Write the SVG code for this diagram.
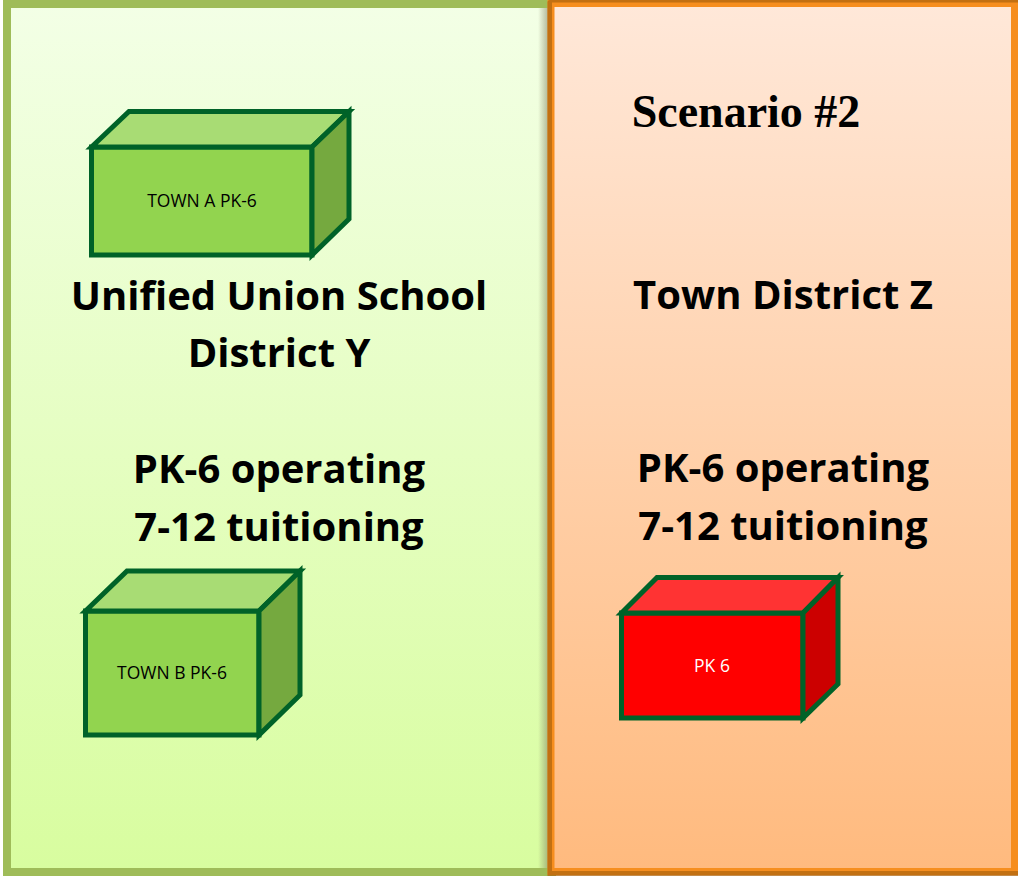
<svg xmlns="http://www.w3.org/2000/svg" width="1018" height="876" viewBox="0 0 1018 876">
<defs>
<linearGradient id="gg" x1="0" y1="0" x2="0" y2="1"><stop offset="0" stop-color="#f3ffe6"/><stop offset="1" stop-color="#d8fd9f"/></linearGradient>
<linearGradient id="og" x1="0" y1="0" x2="0" y2="1"><stop offset="0" stop-color="#ffe8d9"/><stop offset="1" stop-color="#ffba7e"/></linearGradient>
<linearGradient id="sh" x1="0" y1="0" x2="1" y2="0"><stop offset="0" stop-color="#7f7f5f" stop-opacity="0"/><stop offset="1" stop-color="#7f7f5f" stop-opacity=".55"/></linearGradient>
</defs>
<style>
.b{stroke:#006228;stroke-width:5;stroke-linejoin:miter}
.h{font-family:"Open Sans","Noto Sans",sans-serif;font-weight:700;font-size:40px;fill:#000;text-anchor:middle}
.s{font-family:"Open Sans","Noto Sans",sans-serif;font-size:17.5px;text-anchor:middle}
.gf{fill:#92d44f}.gt{fill:#a8dc74}.gs{fill:#75a93f}
</style>
<rect width="1018" height="876" fill="#fff"/>
<g id="panel-left">
<rect x="3" y="0" width="4" height="876" fill="#b5b5a0"/>
<rect x="7" y="4" width="545" height="868" fill="url(#gg)" stroke="#9fbc59" stroke-width="8"/>
</g>
<rect x="538" y="8" width="10" height="860" fill="url(#sh)"/>
<g id="panel-right">
<rect x="551" y="3.500" width="463.500" height="868" fill="url(#og)" stroke="#f68e1e" stroke-width="7"/>
<path d="M547.500 876V2.500Q547.500 0 550 0H1018V2.500H552V871H1018V876Z" fill="#b0650f" fill-opacity=".75"/>
</g>
<g id="box-town-a">
<path class="b gf" d="M91.500 147H312V255H91.500Z"/>
<path class="b gt" d="M91.500 147L129 111.500H349L312 147Z"/>
<path class="b gs" d="M312 147L349 111.500V219L312 255Z"/>
<text class="s" x="202" y="207">TOWN A PK-6</text>
</g>
<g id="box-town-b">
<path class="b gf" d="M85.500 611H259V735H85.500Z"/>
<path class="b gt" d="M85.500 611L127 571H300L259 611Z"/>
<path class="b gs" d="M259 611L300 571V695L259 735Z"/>
<text class="s" x="172" y="679">TOWN B PK-6</text>
</g>
<g id="box-pk6">
<path class="b" fill="#f00" d="M621.500 613H803V718H621.500Z"/>
<path class="b" fill="#ff3333" d="M621.500 613L657 577.500H838L803 613Z"/>
<path class="b" fill="#c00" d="M803 613L838 577.500V684L803 718Z"/>
<text class="s" x="712" y="672" fill="#fff">PK 6</text>
</g>
<g id="labels">
<text x="746" y="127" font-family="'Liberation Serif',serif" font-weight="700" font-size="46" text-anchor="middle">Scenario #2</text>
<text class="h" x="279" y="310">Unified Union School</text>
<text class="h" x="279" y="367">District Y</text>
<text class="h" x="279" y="483">PK-6 operating</text>
<text class="h" x="279" y="541">7-12 tuitioning</text>
<text class="h" x="783" y="309">Town District Z</text>
<text class="h" x="783" y="482">PK-6 operating</text>
<text class="h" x="783" y="540">7-12 tuitioning</text>
</g>
<g id="connectors"/>
</svg>
